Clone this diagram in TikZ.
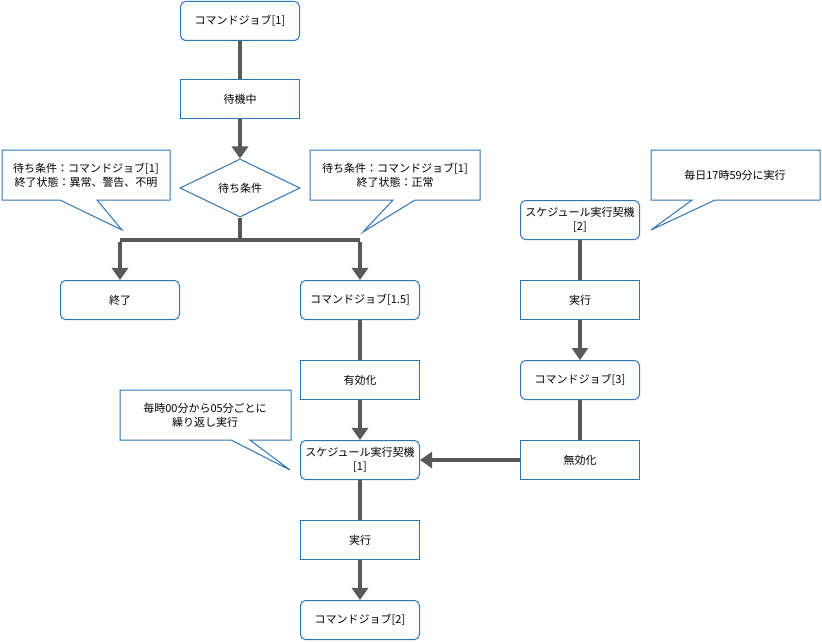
\documentclass[tikz,border=0pt]{standalone}
\usepackage{fontspec}
\setmainfont{Noto Sans CJK JP}
\usetikzlibrary{shapes.geometric,arrows.meta}
\definecolor{bl}{HTML}{2E75B6}
\definecolor{gr}{HTML}{595959}
\begin{document}
\begin{tikzpicture}[x=1pt,y=-1pt,
 box/.style={draw=bl,line width=1pt,fill=white,minimum width=119pt,minimum height=39pt,inner sep=1pt,align=center,font=\fontsize{11}{14}\selectfont},
 rbox/.style={box,rounded corners=5pt},
 call/.style={align=center,font=\fontsize{11}{14}\selectfont},
 cl/.style={draw=bl,line width=1pt,fill=white},
 arr/.style={draw=gr,line width=4pt,-{Triangle[length=12pt,width=16pt]}},
 ln/.style={draw=gr,line width=4pt}]
\useasboundingbox (0,0) rectangle (822,642);
\node[rbox] (c1) at (240,21) {コマンドジョブ[1]};
\node[box] (w) at (240,99) {待機中};
\node[diamond,draw=bl,line width=1pt,fill=white,minimum width=120pt,minimum height=58pt,inner sep=0pt,aspect=2.07,font=\fontsize{11}{14}\selectfont] (d) at (240,188) {待ち条件};
\node[rbox] (e) at (120,300) {終了};
\node[rbox] (c15) at (360,300) {コマンドジョブ[1.5]};
\node[box] (en) at (360,380) {有効化};
\node[rbox] (s1) at (360,460) {スケジュール実行契機\\{}[1]};
\node[box] (x1) at (360,540) {実行};
\node[rbox] (c2) at (360,620) {コマンドジョブ[2]};
\node[rbox] (s2) at (580,220) {スケジュール実行契機\\{}[2]};
\node[box] (x2) at (580,300) {実行};
\node[rbox] (c3) at (580,380) {コマンドジョブ[3]};
\node[box] (di) at (580,460) {無効化};
\coordinate (j) at (240,240);
\coordinate (jl) at (120,240);
\coordinate (jr) at (360,240);
\draw[ln] (c1) -- (w);
\draw[arr] (w) -- (d);
\draw[ln] (d) -- (j);
\draw[ln] (jl) -- (jr);
\draw[arr] ([yshift=-2pt]jl) -- (e);
\draw[arr] ([yshift=-2pt]jr) -- (c15);
\draw[ln] (c15) -- (en);
\draw[arr] (en) -- (s1);
\draw[ln] (s1) -- (x1);
\draw[arr] (x1) -- (c2);
\draw[ln] (s2) -- (x2);
\draw[arr] (x2) -- (c3);
\draw[ln] (c3) -- (di);
\draw[arr] (di) -- (s1);
% callouts
\draw[cl] (2,150) -- (170,150) -- (170,200) -- (97,200) -- (122,230) -- (60,200) -- (2,200) -- cycle;
\node[call] (k1) at (86,175) {待ち条件：コマンドジョブ[1]\\終了状態：異常、警告、不明};
\draw[cl] (310,150) -- (480,150) -- (480,200) -- (415,200) -- (363,232) -- (393,200) -- (310,200) -- cycle;
\node[call] (k2) at (395,175) {待ち条件：コマンドジョブ[1]\\終了状態：正常};
\draw[cl] (651,150) -- (820,150) -- (820,200) -- (715,200) -- (651,230) -- (692,200) -- (651,200) -- cycle;
\node[call] (k3) at (735,175) {毎日17時59分に実行};
\draw[cl] (120,390) -- (291,390) -- (291,440) -- (250,440) -- (290,470) -- (231,440) -- (120,440) -- cycle;
\node[call] (k4) at (205,415) {毎時00分から05分ごとに\\繰り返し実行};
\end{tikzpicture}
\end{document}
